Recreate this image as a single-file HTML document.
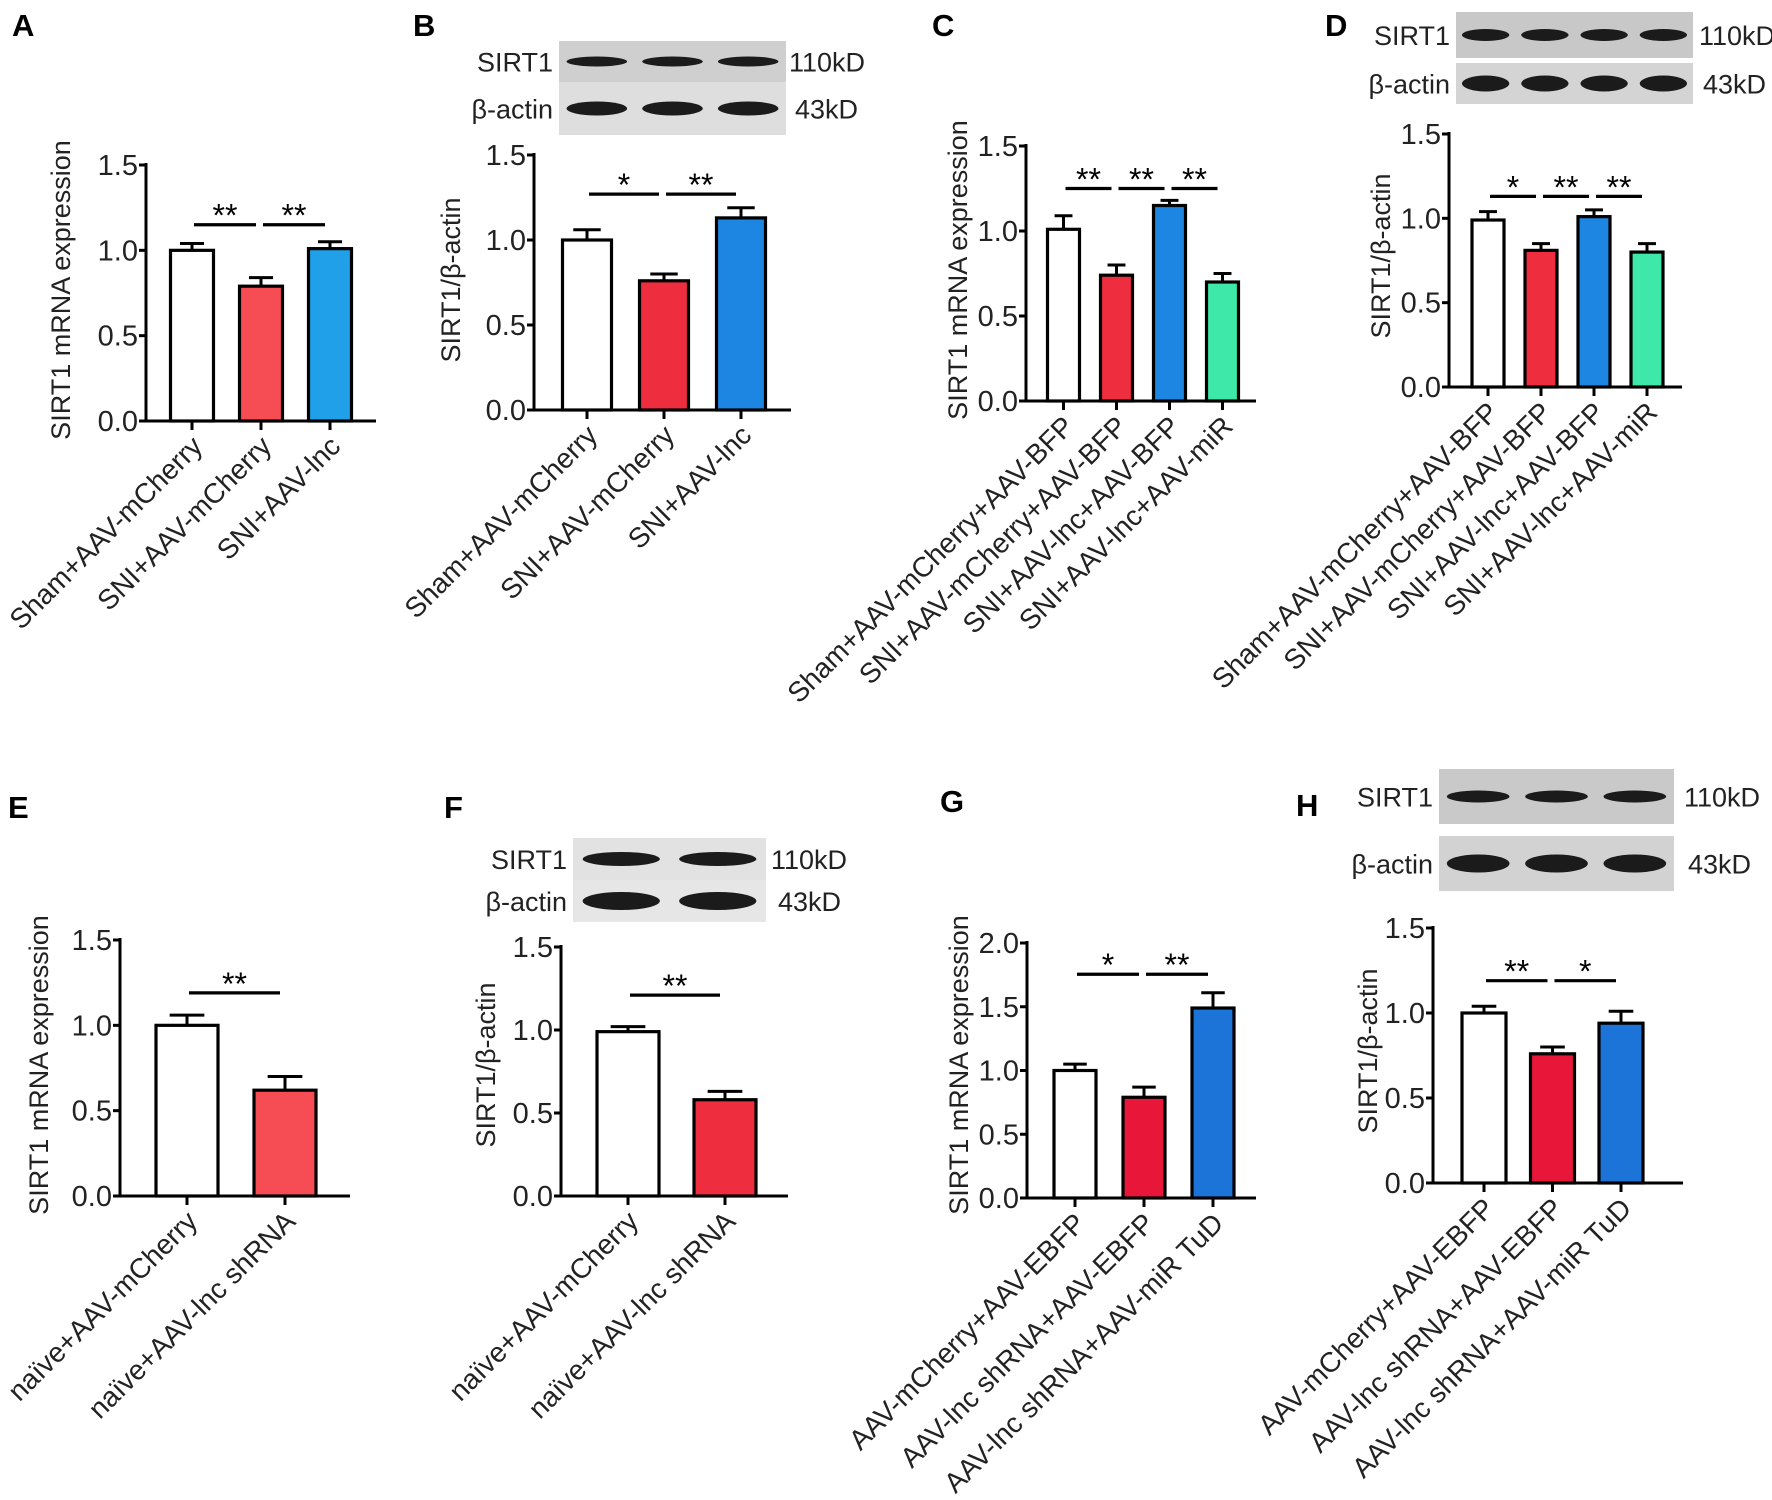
<!DOCTYPE html>
<html><head><meta charset="utf-8">
<style>
html,body{margin:0;padding:0;background:#fff;}
svg{display:block;font-family:"Liberation Sans",Arial,sans-serif;}
</style></head>
<body>
<svg id="fig" width="1772" height="1500" viewBox="0 0 1772 1500" xmlns="http://www.w3.org/2000/svg"></svg>
<script>
// ---- Data ----
const catsA = ["Sham+AAV-mCherry","SNI+AAV-mCherry","SNI+AAV-lnc"];
const valsA = [1.00,0.79,1.01];
const errsA = [0.04,0.05,0.04];
const sigA = [[0,1,"**"],[1,2,"**"]];

const catsB = ["Sham+AAV-mCherry","SNI+AAV-mCherry","SNI+AAV-lnc"];
const valsB = [1.00,0.76,1.13];
const errsB = [0.06,0.04,0.06];
const sigB = [[0,1,"*"],[1,2,"**"]];

const catsC = ["Sham+AAV-mCherry+AAV-BFP","SNI+AAV-mCherry+AAV-BFP","SNI+AAV-lnc+AAV-BFP","SNI+AAV-lnc+AAV-miR"];
const valsC = [1.01,0.74,1.15,0.70];
const errsC = [0.08,0.06,0.03,0.05];
const sigC = [[0,1,"**"],[1,2,"**"],[2,3,"**"]];

const catsD = ["Sham+AAV-mCherry+AAV-BFP","SNI+AAV-mCherry+AAV-BFP","SNI+AAV-lnc+AAV-BFP","SNI+AAV-lnc+AAV-miR"];
const valsD = [0.99,0.81,1.01,0.80];
const errsD = [0.05,0.04,0.04,0.05];
const sigD = [[0,1,"*"],[1,2,"**"],[2,3,"**"]];

const catsE = ["naïve+AAV-mCherry","naïve+AAV-lnc shRNA"];
const valsE = [1.00,0.62];
const errsE = [0.06,0.08];
const sigE = [[0,1,"**"]];

const catsF = ["naïve+AAV-mCherry","naïve+AAV-lnc shRNA"];
const valsF = [0.99,0.58];
const errsF = [0.03,0.05];
const sigF = [[0,1,"**"]];

const catsG = ["AAV-mCherry+AAV-EBFP","AAV-lnc shRNA+AAV-EBFP","AAV-lnc shRNA+AAV-miR TuD"];
const valsG = [1.00,0.79,1.49];
const errsG = [0.05,0.08,0.12];
const sigG = [[0,1,"*"],[1,2,"**"]];

const catsH = ["AAV-mCherry+AAV-EBFP","AAV-lnc shRNA+AAV-EBFP","AAV-lnc shRNA+AAV-miR TuD"];
const valsH = [1.00,0.76,0.94];
const errsH = [0.04,0.04,0.07];
const sigH = [[0,1,"**"],[1,2,"*"]];

const ticks15 = ["0.0","0.5","1.0","1.5"];
const ticks20 = ["0.0","0.5","1.0","1.5","2.0"];

// ---- Drawing ----
const NS="http://www.w3.org/2000/svg";
const svg=document.getElementById('fig');
function mk(tag,attrs,parent){const e=document.createElementNS(NS,tag);for(const k in attrs)e.setAttribute(k,attrs[k]);(parent||svg).appendChild(e);return e;}

function panel(p){
  const g=mk('g',{});
  
  
  const yMax=parseFloat(p.ticks[p.ticks.length-1]);
  const ys=v=>p.y0-(v/yMax)*(p.y0-p.yTop);
  const xs=i=>p.x0+i*p.step;
  const L=mk('text',{x:p.lx,y:p.ly,'font-size':31,'font-weight':'bold'},g);L.textContent=p.id;
  
  
  p.ticks.forEach(t=>{
    const y=ys(parseFloat(t));
    mk('line',{x1:p.ax-7,x2:p.ax,y1:y,y2:y,stroke:'#000','stroke-width':3},g);
    const tt=mk('text',{x:p.ax-8,y:y+10,'font-size':29,'text-anchor':'end',fill:'#222'},g);tt.textContent=t;
    
    
  });
  const ya=mk('line',{x1:p.ax,x2:p.ax,y1:p.yTop-2,y2:p.y0+1.5,stroke:'#000','stroke-width':3},g);
  
  
  const xa=mk('line',{x1:p.ax-1.5,x2:p.xEnd,y1:p.y0,y2:p.y0,stroke:'#000','stroke-width':3},g);
  
  
  const yt=mk('text',{transform:`translate(${p.tx},${p.ty}) rotate(-90)`,'font-size':27,'text-anchor':'middle',fill:'#222'},g);
  yt.textContent=p.title;
  
  
  p.vals.forEach((v,i)=>{
    const cx=xs(i), top=ys(v), eTop=ys(v+p.errs[i]);
    mk('line',{x1:cx,x2:cx,y1:p.y0,y2:p.y0+9,stroke:'#000','stroke-width':3},g);
    const el=mk('line',{x1:cx,x2:cx,y1:top,y2:eTop,stroke:'#000','stroke-width':3},g);
    
    
    mk('line',{x1:cx-p.w*0.28,x2:cx+p.w*0.28,y1:eTop,y2:eTop,stroke:'#000','stroke-width':3},g);
    const r=mk('rect',{x:cx-p.w/2,y:top,width:p.w,height:p.y0-top,fill:p.colors[i],stroke:'#000','stroke-width':3.2},g);
    
    
    const lt=mk('text',{transform:`translate(${cx+12},${p.y0+27}) rotate(-45)`,'font-size':28,'text-anchor':'end',fill:'#222'},g);
    lt.textContent=p.cats[i];
    
    
  });
  p.sig.forEach(s=>{
    const y=ys(p.sigLevel);
    const a=xs(s[0])+2, b=xs(s[1])-5;
    const sl=mk('line',{x1:a,x2:b,y1:y,y2:y,stroke:'#000','stroke-width':3.2},g);
    
    
    const st=mk('text',{x:(a+b)/2,y:y+2,'font-size':32,'text-anchor':'middle'},g);st.textContent=s[2];
    
    
  });
  if(p.blot) blot(p.blot,p.id);
}

function blot(b,id){
  const g=mk('g',{});
  
  
  [[b.s1y,b.s1h,b.s1bg,b.s1band,'SIRT1','110kD',b.kd1x],[b.s2y,b.s2h,b.s2bg,b.s2band,'β-actin','43kD',b.kd2x]].forEach(r=>{
    mk('rect',{x:b.x,y:r[0],width:b.w,height:r[1],fill:r[2]},g);
    const lw=b.w/b.n;
    for(let i=0;i<b.n;i++){
      const cx=b.x+lw*(i+0.5);
      mk('ellipse',{cx:cx,cy:r[0]+r[1]*0.5,rx:lw*0.4,ry:r[3],fill:'#1b1b1b'},g);
    }
    const lbl=mk('text',{x:b.x-6,y:r[0]+r[1]*0.5+10,'font-size':27,'text-anchor':'end',fill:'#222'},g);lbl.textContent=r[4];
    
    
    const kd=mk('text',{x:r[6],y:r[0]+r[1]*0.5+10,'font-size':27,fill:'#222'},g);kd.textContent=r[5];
    
    
  });
}

const W='#ffffff';
panel({id:'A',lx:12,ly:36,ax:146,y0:421,yTop:165,xEnd:376,x0:192,step:69,w:43,ticks:ticks15,
  cats:catsA,vals:valsA,errs:errsA,sig:sigA,sigLevel:1.15,colors:[W,'#f64d55','#1fa0e8'],
  title:'SIRT1 mRNA expression',tx:70,ty:290});
panel({id:'B',lx:413,ly:36,ax:534,y0:410,yTop:155,xEnd:791,x0:587,step:77,w:49,ticks:ticks15,
  cats:catsB,vals:valsB,errs:errsB,sig:sigB,sigLevel:1.27,colors:[W,'#ee2e3f','#1d86e3'],
  title:'SIRT1/β-actin',tx:460,ty:280,
  blot:{x:559,w:227,n:3,s1y:41,s1h:41,s1bg:'#cfcfcf',s1band:5,s2y:82,s2h:53,s2bg:'#dedede',s2band:7,kd1x:789,kd2x:795}});
panel({id:'C',lx:932,ly:36,ax:1026,y0:401,yTop:146,xEnd:1256,x0:1063.5,step:53,w:32,ticks:ticks15,
  cats:catsC,vals:valsC,errs:errsC,sig:sigC,sigLevel:1.25,colors:[W,'#ee2e3f','#1d86e3','#3de8a8'],
  title:'SIRT1 mRNA expression',tx:967,ty:270});
panel({id:'D',lx:1325,ly:36,ax:1449,y0:387,yTop:134,xEnd:1682,x0:1488,step:53,w:32,ticks:ticks15,
  cats:catsD,vals:valsD,errs:errsD,sig:sigD,sigLevel:1.13,colors:[W,'#ee2e3f','#1d86e3','#3de8a8'],
  title:'SIRT1/β-actin',tx:1390,ty:256,
  blot:{x:1456,w:237,n:4,s1y:12,s1h:46,s1bg:'#c8c8c8',s1band:6,s2y:63,s2h:41,s2bg:'#d4d4d4',s2band:8,kd1x:1699,kd2x:1703}});
panel({id:'E',lx:8,ly:818,ax:120,y0:1196,yTop:940,xEnd:350,x0:187,step:98,w:62,ticks:ticks15,
  cats:catsE,vals:valsE,errs:errsE,sig:sigE,sigLevel:1.19,colors:[W,'#f64d55'],
  title:'SIRT1 mRNA expression',tx:48,ty:1065});
panel({id:'F',lx:444,ly:818,ax:561,y0:1196,yTop:947,xEnd:788,x0:628,step:97,w:62,ticks:ticks15,
  cats:catsF,vals:valsF,errs:errsF,sig:sigF,sigLevel:1.21,colors:[W,'#ee2e3f'],
  title:'SIRT1/β-actin',tx:495,ty:1065,
  blot:{x:573,w:193,n:2,s1y:838,s1h:42,s1bg:'#e2e2e2',s1band:7,s2y:880,s2h:42,s2bg:'#e6e6e6',s2band:9,kd1x:771,kd2x:778}});
panel({id:'G',lx:940,ly:812,ax:1027,y0:1198,yTop:943,xEnd:1256,x0:1075,step:69,w:42,ticks:ticks20,
  cats:catsG,vals:valsG,errs:errsG,sig:sigG,sigLevel:1.755,colors:[W,'#e8173a','#1c74d8'],
  title:'SIRT1 mRNA expression',tx:968,ty:1065});
panel({id:'H',lx:1296,ly:816,ax:1433,y0:1183,yTop:928,xEnd:1683,x0:1484,step:68.5,w:44,ticks:ticks15,
  cats:catsH,vals:valsH,errs:errsH,sig:sigH,sigLevel:1.19,colors:[W,'#e8173a','#1c74d8'],
  title:'SIRT1/β-actin',tx:1377,ty:1051,
  blot:{x:1439,w:235,n:3,s1y:769,s1h:55,s1bg:'#c9c9c9',s1band:6,s2y:836,s2h:55,s2bg:'#d2d2d2',s2band:9,kd1x:1684,kd2x:1688}});
</script>
</body></html>
